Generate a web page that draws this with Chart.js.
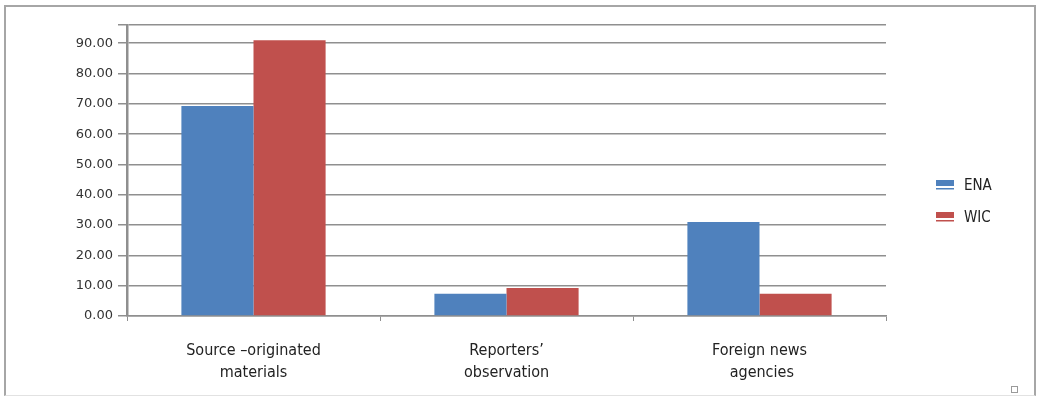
<!DOCTYPE html>
<html>
<head>
<meta charset="utf-8">
<script src="https://cdn.jsdelivr.net/npm/chart.js@4"></script>
<style>
  body { margin: 0; background: #fff; }
  #wrap { position: relative; width: 1039px; height: 396px; overflow: hidden; }
  #chart { position: absolute; left: 0; top: 0; }
  #frame { position: absolute; left: 4px; top: 5px; width: 1028px; height: 388px;
           border: 2px solid #a6a6a6; border-bottom: 1px solid #e2e2e2; pointer-events: none; }
  #handle { position: absolute; left: 1011px; top: 386px; width: 5px; height: 5px;
            border: 1px solid #9a9a9a; pointer-events: none; }
</style>
</head>
<body>
<div id="wrap">
  <canvas id="chart" width="1039" height="396"></canvas>
  <div id="frame"></div>
  <div id="handle"></div>
</div>
<script>
  const categories = [['Source \u2013originated', 'materials'], ['Reporters\u2019', 'observation'], ['Foreign news', ' agencies']];
  const enaValues = [69.3, 7.3, 31];
  const wicValues = [91, 9.2, 7.3];
  const yTicks = [0, 10, 20, 30, 40, 50, 60, 70, 80, 90];
  const axisMax = 96;

  const labelFont = "'Liberation Sans Narrow', 'DejaVu Sans Condensed', 'Liberation Sans', sans-serif";
  const gridGray = '#8f8f8f';

  // legend drawn on the right like the original
  const sideLegend = {
    id: 'sideLegend',
    afterDraw(chart) {
      const c = chart.ctx;
      c.save();
      chart.data.datasets.forEach((ds, i) => {
        const y0 = 180 + i * 32;
        c.fillStyle = ds.backgroundColor;
        c.fillRect(936, y0, 18, 6);
        c.fillRect(936, y0 + 8, 18, 1.5);
        c.fillStyle = '#222';
        c.font = '15px ' + labelFont;
        c.textBaseline = 'middle';
        c.fillText(ds.label, 964, y0 + 6);
      });
      c.restore();
    }
  };

  const ctx = document.getElementById('chart').getContext('2d');
  new Chart(ctx, {
    type: 'bar',
    data: {
      labels: categories,
      datasets: [
        { label: 'ENA', data: enaValues, backgroundColor: '#4F81BD' },
        { label: 'WIC', data: wicValues, backgroundColor: '#C0504D' }
      ]
    },
    options: {
      responsive: false,
      animation: false,
      layout: { padding: { top: 25, right: 153, left: 0, bottom: 0 } },
      datasets: { bar: { categoryPercentage: 0.57, barPercentage: 1 } },
      plugins: { legend: { display: false }, tooltip: { enabled: false } },
      scales: {
        x: {
          grid: { drawOnChartArea: false, drawTicks: true, tickLength: 5, color: gridGray, offset: true },
          border: { color: gridGray, width: 1.5 },
          ticks: { color: '#222', padding: 19, font: { family: labelFont, size: 16, lineHeight: 1.375 } },
          afterFit(s) { s.height = 80; }
        },
        y: {
          min: 0,
          max: axisMax,
          afterBuildTicks(s) { s.ticks = yTicks.concat([axisMax]).map(v => ({ value: v })); },
          ticks: {
            color: '#333',
            padding: 5,
            font: { family: 'DejaVu Sans', size: 13 },
            callback: v => yTicks.includes(v) ? v.toFixed(2) : ''
          },
          grid: { color: gridGray, lineWidth: 1.5, tickLength: 9 },
          border: { color: gridGray, width: 2.5 },
          afterFit(s) { s.width = 127; }
        }
      }
    },
    plugins: [sideLegend]
  });
</script>
</body>
</html>
